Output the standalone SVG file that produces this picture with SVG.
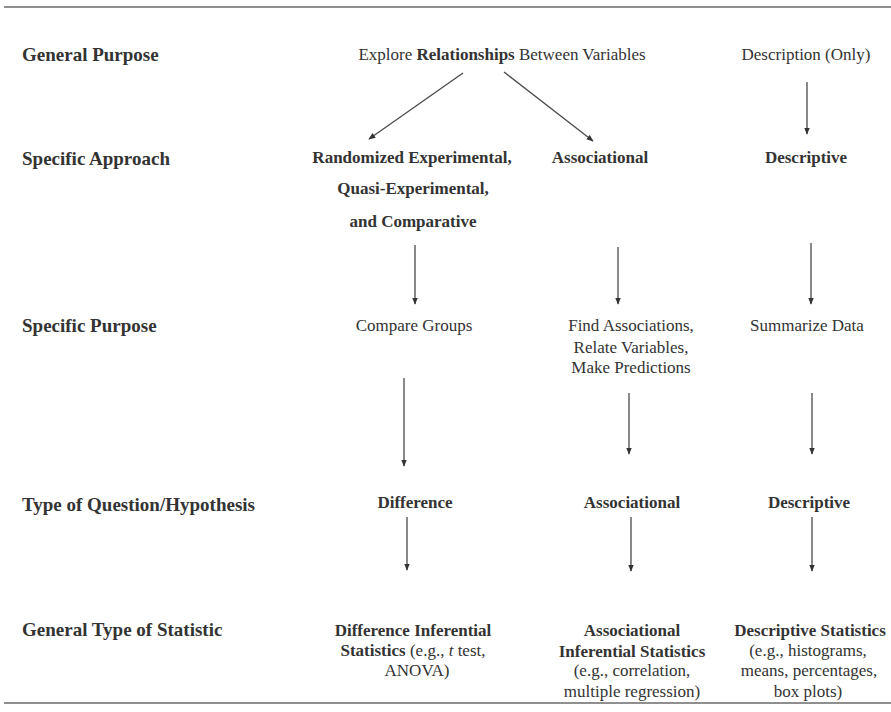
<svg xmlns="http://www.w3.org/2000/svg" width="891" height="712" viewBox="0 0 891 712" font-family="Liberation Serif, serif">
<defs>
<style>
text{font-size:17px;fill:#333}
.b{font-weight:bold}
.h{font-size:19px;font-weight:bold;text-anchor:start}
.c{text-anchor:middle}
.conn line{stroke:#4a4a4a;stroke-width:1.3}
.rule{stroke:#6a6a6a;stroke-width:1.6}
</style>
<marker id="ah" viewBox="0 0 10 10" refX="9" refY="5" markerWidth="7" markerHeight="7" orient="auto" markerUnits="userSpaceOnUse">
<path d="M0,1 L10,5 L0,9 z" fill="#333"/>
</marker>
</defs>
<rect width="891" height="712" fill="#fff"/>
<line class="rule" x1="4" y1="7" x2="891" y2="7"/>
<line class="rule" x1="4" y1="703" x2="891" y2="703"/>

<g id="row-labels" font-family="Liberation Serif, serif">
<text class="h" x="22" y="61" font-family="Liberation Serif, serif">General Purpose</text>
<text class="h" x="22" y="165" font-family="Liberation Serif, serif">Specific Approach</text>
<text class="h" x="22" y="332" font-family="Liberation Serif, serif">Specific Purpose</text>
<text class="h" x="22" y="511" font-family="Liberation Serif, serif">Type of Question/Hypothesis</text>
<text class="h" x="22" y="636" font-family="Liberation Serif, serif">General Type of Statistic</text>
</g>

<g id="explore" font-family="Liberation Serif, serif"><text class="c" x="502" y="60" font-family="Liberation Serif, serif">Explore <tspan class="b">Relationships</tspan> Between Variables</text></g>
<g id="description-only" font-family="Liberation Serif, serif"><text class="c" x="806" y="60" font-family="Liberation Serif, serif">Description (Only)</text></g>

<g id="randomized" font-family="Liberation Serif, serif"><text class="b c" x="412" y="163" font-family="Liberation Serif, serif">Randomized Experimental,</text>
<text class="b c" x="413" y="194" font-family="Liberation Serif, serif">Quasi-Experimental,</text>
<text class="b c" x="413" y="227" font-family="Liberation Serif, serif">and Comparative</text></g>
<g id="associational-approach" font-family="Liberation Serif, serif"><text class="b c" x="600" y="163" font-family="Liberation Serif, serif">Associational</text></g>
<g id="descriptive-approach" font-family="Liberation Serif, serif"><text class="b c" x="806" y="163" font-family="Liberation Serif, serif">Descriptive</text></g>

<g id="compare-groups" font-family="Liberation Serif, serif"><text class="c" x="414" y="331" font-family="Liberation Serif, serif">Compare Groups</text></g>
<g id="find-associations" font-family="Liberation Serif, serif"><text class="c" x="631" y="331" font-family="Liberation Serif, serif">Find Associations,</text>
<text class="c" x="631" y="353" font-family="Liberation Serif, serif">Relate Variables,</text>
<text class="c" x="631" y="373" font-family="Liberation Serif, serif">Make Predictions</text></g>
<g id="summarize-data" font-family="Liberation Serif, serif"><text class="c" x="807" y="331" font-family="Liberation Serif, serif">Summarize Data</text></g>

<g id="difference" font-family="Liberation Serif, serif"><text class="b c" x="415" y="508" font-family="Liberation Serif, serif">Difference</text></g>
<g id="associational-question" font-family="Liberation Serif, serif"><text class="b c" x="632" y="508" font-family="Liberation Serif, serif">Associational</text></g>
<g id="descriptive-question" font-family="Liberation Serif, serif"><text class="b c" x="809" y="508" font-family="Liberation Serif, serif">Descriptive</text></g>

<g id="difference-stats" font-family="Liberation Serif, serif"><text class="b c" x="413" y="636" font-family="Liberation Serif, serif">Difference Inferential</text>
<text class="c" x="413" y="656" font-family="Liberation Serif, serif"><tspan class="b">Statistics</tspan>  (e.g., <tspan font-style="italic">t</tspan> test,</text>
<text class="c" x="417" y="676" font-family="Liberation Serif, serif">ANOVA)</text></g>
<g id="associational-stats" font-family="Liberation Serif, serif"><text class="b c" x="632" y="636" font-family="Liberation Serif, serif">Associational</text>
<text class="b c" x="632" y="657" font-family="Liberation Serif, serif">Inferential Statistics</text>
<text class="c" x="632" y="676" font-family="Liberation Serif, serif">(e.g., correlation,</text>
<text class="c" x="632" y="697" font-family="Liberation Serif, serif">multiple regression)</text></g>
<g id="descriptive-stats" font-family="Liberation Serif, serif"><text class="b c" x="810" y="636" font-family="Liberation Serif, serif">Descriptive Statistics</text>
<text class="c" x="808" y="656" font-family="Liberation Serif, serif">(e.g., histograms,</text>
<text class="c" x="809" y="676" font-family="Liberation Serif, serif">means, percentages,</text>
<text class="c" x="808" y="697" font-family="Liberation Serif, serif">box plots)</text></g>

<g id="connectors" class="conn">
<line x1="463" y1="73" x2="369" y2="139" marker-end="url(#ah)"/>
<line x1="504" y1="72" x2="593" y2="141" marker-end="url(#ah)"/>
<line x1="807" y1="82" x2="807" y2="134" marker-end="url(#ah)"/>
<line x1="415" y1="245" x2="415" y2="304" marker-end="url(#ah)"/>
<line x1="618" y1="247" x2="618" y2="304" marker-end="url(#ah)"/>
<line x1="811" y1="243" x2="811" y2="304" marker-end="url(#ah)"/>
<line x1="404" y1="378" x2="404" y2="466" marker-end="url(#ah)"/>
<line x1="629" y1="393" x2="629" y2="454" marker-end="url(#ah)"/>
<line x1="812" y1="393" x2="812" y2="454" marker-end="url(#ah)"/>
<line x1="407" y1="517" x2="407" y2="570" marker-end="url(#ah)"/>
<line x1="631" y1="517" x2="631" y2="571" marker-end="url(#ah)"/>
<line x1="812" y1="517" x2="812" y2="571" marker-end="url(#ah)"/>
</g>
</svg>
